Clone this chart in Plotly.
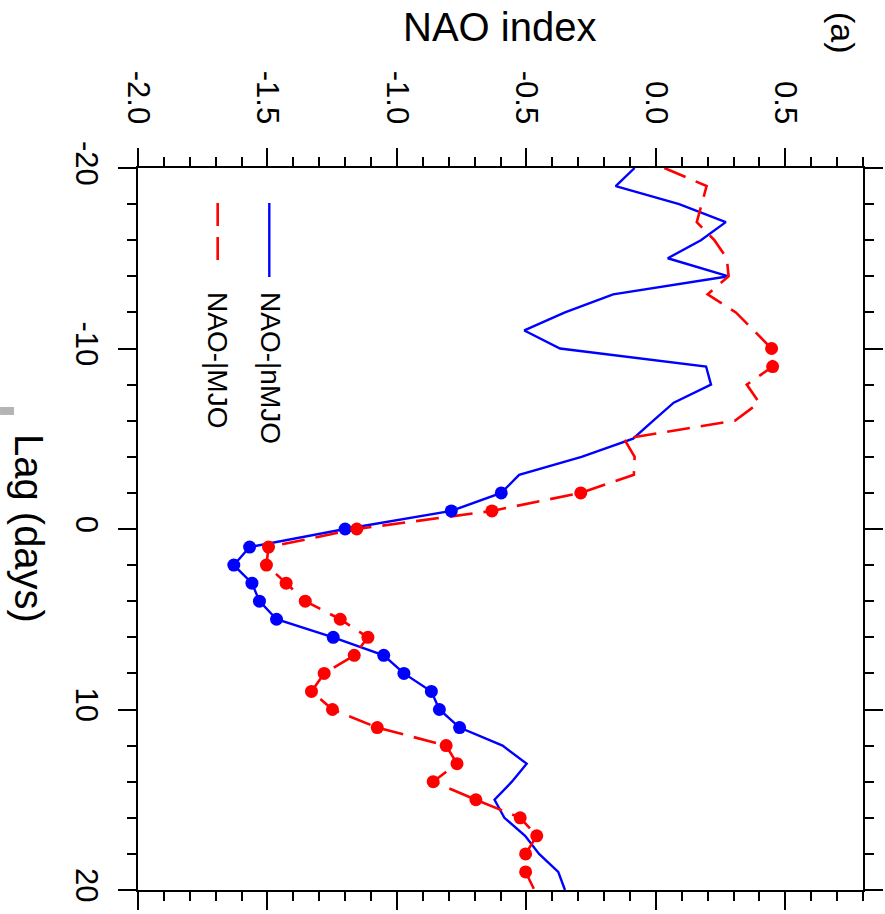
import plotly.graph_objects as go

# Lag in days relative to the event
lags = list(range(-20, 21))

# Composite NAO index for the two MJO categories
nao_nmjo = [-0.082, -0.155, 0.090, 0.270, 0.174, 0.046, 0.281, -0.165, -0.351, -0.508,
            -0.370, 0.194, 0.213, 0.069, -0.010, -0.088, -0.287, -0.528, -0.597, -0.790,
            -1.200, -1.569, -1.630, -1.560, -1.531, -1.465, -1.246, -1.051, -0.973, -0.867,
            -0.836, -0.758, -0.592, -0.499, -0.556, -0.623, -0.585, -0.505, -0.451, -0.377,
            -0.351]
nao_mjo = [0.033, 0.196, 0.177, 0.158, 0.226, 0.274, 0.281, 0.200, 0.309, 0.379,
           0.447, 0.451, 0.351, 0.399, 0.305, -0.123, -0.082, -0.085, -0.290, -0.633,
           -1.155, -1.496, -1.504, -1.428, -1.354, -1.219, -1.112, -1.165, -1.281, -1.330,
           -1.249, -1.076, -0.810, -0.768, -0.860, -0.695, -0.524, -0.460, -0.503, -0.503,
           -0.469]

# Lags at which the composite is statistically significant (drawn with dots)
sig_nmjo = list(range(-2, 12))
sig_mjo = [-10, -9] + list(range(-2, 20))

x_ticks = [-2.0, -1.5, -1.0, -0.5, 0.0, 0.5]
x_ticktext = ["-2.0", "-1.5", "-1.0", "-0.5", "0.0", "0.5"]
y_ticks = [-20, -10, 0, 10, 20]
y_ticktext = ["-20", "-10", "0", "10", "20"]

FONT = "Liberation Sans, Arial, Helvetica, sans-serif"
BLUE = "#0000ff"
RED = "#ff0000"
DASH = "23px,11px"

fig = go.Figure()

fig.add_trace(go.Scatter(
    x=nao_nmjo, y=lags, mode="lines",
    line=dict(color=BLUE, width=2.4), showlegend=False, hoverinfo="skip"))
fig.add_trace(go.Scatter(
    x=nao_mjo, y=lags, mode="lines",
    line=dict(color=RED, width=2.6, dash=DASH), showlegend=False, hoverinfo="skip"))

fig.add_trace(go.Scatter(
    x=[v for l, v in zip(lags, nao_nmjo) if l in sig_nmjo],
    y=[l for l in lags if l in sig_nmjo],
    mode="markers", marker=dict(color=BLUE, size=13),
    showlegend=False, hoverinfo="skip"))
fig.add_trace(go.Scatter(
    x=[v for l, v in zip(lags, nao_mjo) if l in sig_mjo],
    y=[l for l in lags if l in sig_mjo],
    mode="markers", marker=dict(color=RED, size=13),
    showlegend=False, hoverinfo="skip"))

axis_common = dict(
    showline=True, linecolor="black", linewidth=2, mirror="ticks",
    ticks="outside", ticklen=18, tickwidth=2, tickcolor="black",
    showgrid=False, zeroline=False, automargin=False,
    tickangle=90,
    tickfont=dict(family=FONT, size=31, color="black"),
)

fig.update_xaxes(
    range=[-2.0, 0.8], side="top", tickmode="array",
    tickvals=x_ticks, ticktext=x_ticktext, ticklabelstandoff=13,
    minor=dict(dtick=0.1, tick0=-2.0, ticks="outside", ticklen=9, tickwidth=2, tickcolor="black"),
    **axis_common)
fig.update_yaxes(
    range=[20, -20], tickmode="array",
    tickvals=y_ticks, ticktext=y_ticktext, ticklabelstandoff=5,
    minor=dict(dtick=2, tick0=-20, ticks="outside", ticklen=9, tickwidth=2, tickcolor="black"),
    **axis_common)

annotations = [
    dict(text="NAO index", x=0.4993, y=1.1953, font=dict(size=40)),
    dict(text="(a)", x=0.9724, y=1.187, textangle=90, font=dict(size=34)),
    dict(text="Lag (days)", x=-0.1503, y=0.5014, textangle=90, font=dict(size=40)),
    dict(text="NAO-|nMJO", x=0.182, y=0.723, textangle=90, font=dict(size=28)),
    dict(text="NAO-|MJO", x=0.1103, y=0.734, textangle=90, font=dict(size=28)),
]
for a in annotations:
    a.update(xref="paper", yref="paper", showarrow=False,
             xanchor="center", yanchor="middle")
    a["font"].update(family=FONT, color="black")

shapes = [
    # legend samples
    dict(type="line", xref="paper", yref="paper", x0=0.1811, x1=0.1811, y0=0.9515, y1=0.849,
         line=dict(color=BLUE, width=2.4)),
    dict(type="line", xref="paper", yref="paper", x0=0.1099, x1=0.1099, y0=0.9515, y1=0.8629,
         line=dict(color=RED, width=2.6, dash=DASH)),
    # small grey mark at the left page edge
    dict(type="rect", xref="paper", yref="paper", x0=-0.1903, x1=-0.171, y0=0.658, y1=0.669,
         line=dict(width=0), fillcolor="#b4b4b4"),
]

fig.update_layout(
    width=885, height=914,
    margin=dict(l=138, r=22, t=168, b=24),
    paper_bgcolor="white", plot_bgcolor="white",
    annotations=annotations, shapes=shapes,
    font=dict(family=FONT, color="black"),
)

fig.write_html("out.html")
